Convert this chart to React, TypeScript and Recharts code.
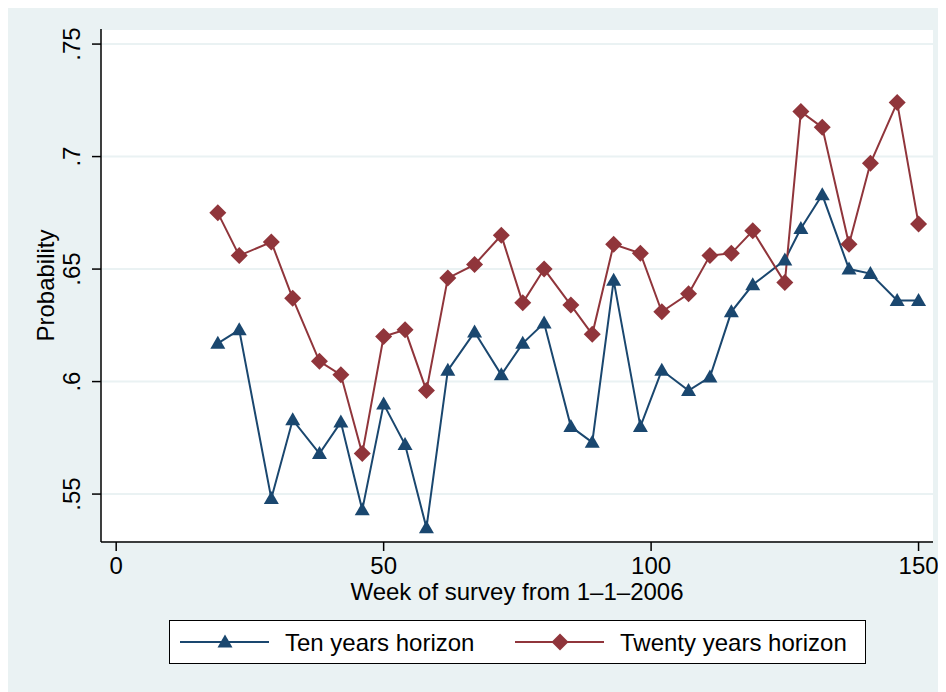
import React from "react"
import { LineChart, Line, XAxis, YAxis, CartesianGrid } from "recharts"

const weeks = [19, 23, 29, 33, 38, 42, 46, 50, 54, 58, 62, 67, 72, 76, 80, 85, 89, 93, 98, 102, 107, 111, 115, 119, 125, 128, 132, 137, 141, 146, 150]
const tenYears = [0.617, 0.623, 0.548, 0.583, 0.568, 0.582, 0.543, 0.590, 0.572, 0.535, 0.605, 0.622, 0.603, 0.617, 0.626, 0.580, 0.573, 0.645, 0.580, 0.605, 0.596, 0.602, 0.631, 0.643, 0.654, 0.668, 0.683, 0.650, 0.648, 0.636, 0.636]
const twentyYears = [0.675, 0.656, 0.662, 0.637, 0.609, 0.603, 0.568, 0.620, 0.623, 0.596, 0.646, 0.652, 0.665, 0.635, 0.650, 0.634, 0.621, 0.661, 0.657, 0.631, 0.639, 0.656, 0.657, 0.667, 0.644, 0.720, 0.713, 0.661, 0.697, 0.724, 0.670]
const xTicks = [0, 50, 100, 150]
const yTicks = [0.55, 0.6, 0.65, 0.7, 0.75]

const data = weeks.map((w, i) => ({ week: w, ten: tenYears[i], twenty: twentyYears[i] }))

const BLUE = "#1a476f"
const RED = "#90353b"
const BG = "#eaf2f3"
const FONT = "'Liberation Sans', Arial, Helvetica, sans-serif"
const FS = 24

const tri = (cx: number, cy: number) => `M${cx},${cy - 7.5} L${cx - 7.5},${cy + 5.5} L${cx + 7.5},${cy + 5.5} Z`
const dia = (cx: number, cy: number) => `M${cx},${cy - 8.5} L${cx + 8.5},${cy} L${cx},${cy + 8.5} L${cx - 8.5},${cy} Z`

const TriangleDot = (p: any) => <path key={`t${p.index}`} d={tri(p.cx, p.cy)} fill={BLUE} />
const DiamondDot = (p: any) => <path key={`d${p.index}`} d={dia(p.cx, p.cy)} fill={RED} />

const YTick = (p: any) => (
  <text x={p.x} y={p.y} transform={`rotate(-90 ${p.x} ${p.y})`} textAnchor="middle" fontSize={FS} fill="#000" fontFamily={FONT}>
    {String(p.payload.value).replace(/^0/, "")}
  </text>
)

function Legend() {
  return (
    <svg width={698} height={45} style={{ position: "absolute", left: 162, top: 615 }}>
      <rect x={0.5} y={0.5} width={696} height={43} fill="#fff" stroke="#000" strokeWidth={1} />
      <line x1={11} y1={22} x2={100} y2={22} stroke={BLUE} strokeWidth={2} />
      <path d={tri(56, 22)} fill={BLUE} />
      <text x={116} y={31} fontSize={FS} fontFamily={FONT} fill="#000">Ten years horizon</text>
      <line x1={346} y1={22} x2={435} y2={22} stroke={RED} strokeWidth={2} />
      <path d={dia(391, 22)} fill={RED} />
      <text x={451} y={31} fontSize={FS} fontFamily={FONT} fill="#000">Twenty years horizon</text>
    </svg>
  )
}

export default function App() {
  return (
    <div style={{ position: "relative", margin: "-3px 0 0 -1px", width: 939, height: 687, background: BG, fontFamily: FONT }}>
      <LineChart width={939} height={687} data={data} margin={{ top: 24, right: 13, bottom: 80, left: 0 }}>
        <CartesianGrid vertical={false} fill="#fff" stroke={BG} strokeWidth={2} />
        <XAxis
          type="number"
          dataKey="week"
          domain={[-2.84, 152.7]}
          ticks={xTicks}
          allowDataOverflow
          height={70}
          tickSize={9}
          tickMargin={6}
          stroke="#000"
          strokeWidth={1.5}
          tick={{ fontSize: FS, fill: "#000", fontFamily: FONT }}
          label={{
            content: ({ viewBox }: any) => (
              <text x={viewBox.x + viewBox.width / 2} y={595} textAnchor="middle" fontSize={FS} fill="#000" fontFamily={FONT}>
                Week of survey from 1–1–2006
              </text>
            ),
          }}
        />
        <YAxis
          type="number"
          domain={[0.5287, 0.7567]}
          ticks={yTicks}
          allowDataOverflow
          width={94}
          tickSize={9}
          tickMargin={12}
          stroke="#000"
          strokeWidth={1.5}
          tick={<YTick />}
          label={{
            content: ({ viewBox }: any) => {
              const cx = 46.5
              const cy = viewBox.y + viewBox.height / 2
              return (
                <text x={cx} y={cy} transform={`rotate(-90 ${cx} ${cy})`} textAnchor="middle" fontSize={FS} fill="#000" fontFamily={FONT}>
                  Probability
                </text>
              )
            },
          }}
        />
        <Line type="linear" dataKey="ten" stroke={BLUE} strokeWidth={2} dot={TriangleDot} isAnimationActive={false} />
        <Line type="linear" dataKey="twenty" stroke={RED} strokeWidth={2} dot={DiamondDot} isAnimationActive={false} />
      </LineChart>
      <Legend />
    </div>
  )
}
